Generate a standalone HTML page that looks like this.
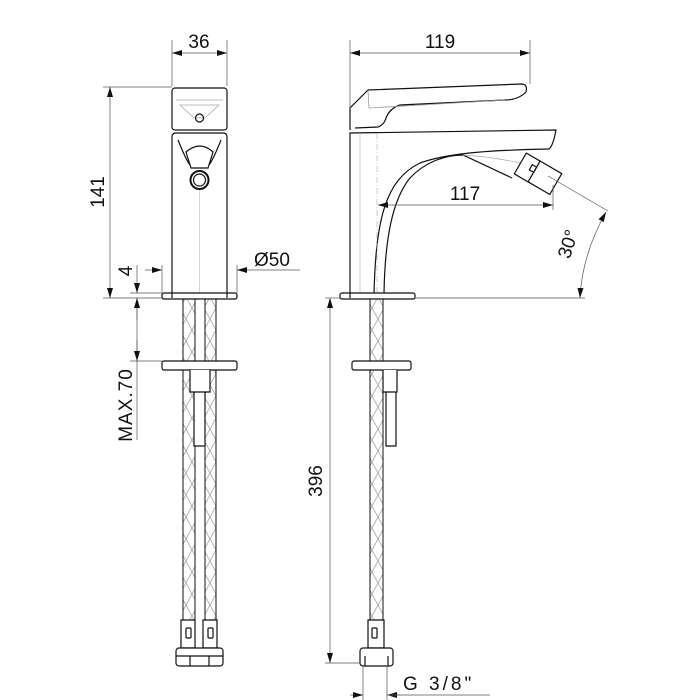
<!DOCTYPE html>
<html><head><meta charset="utf-8"><style>
html,body{margin:0;padding:0;background:#fff;}
svg{display:block;}
text{font-family:"Liberation Sans",sans-serif;fill:#111;}
</style></head><body>
<svg width="700" height="700" viewBox="0 0 700 700" xmlns="http://www.w3.org/2000/svg">
<defs>
<pattern id="br" width="12" height="22" patternUnits="userSpaceOnUse">
<path d="M0 0 L12 22 M12 0 L0 22" stroke="#999" stroke-width="0.7" fill="none"/>
</pattern>
<marker id="a" markerWidth="10" markerHeight="6" refX="10" refY="3" orient="auto-start-reverse" markerUnits="userSpaceOnUse">
<path d="M0 0 L10 3 L0 6 Z" fill="#111"/>
</marker>
</defs>
<g fill="none" stroke="#111" stroke-width="1.2">
<!-- LEFT VIEW -->
<rect x="172" y="88" width="55" height="42" rx="3"/>
<path d="M176 100 L223 100 M180 105 L219 105 L205 118 L194 118 Z" stroke="#aaa" stroke-width="0.8"/>
<circle cx="199.5" cy="118" r="4"/>
<path d="M172 298 L172 137 Q172 133 176 133 L223 133 Q227 133 227 137 L227 298"/>
<path d="M178 140 Q186 160 190 165 M221 140 Q213 160 209 165" />
<path d="M186 152 Q200 140 213 152 L208 168 L191 168 Z"/>
<circle cx="199.5" cy="180" r="9" stroke-width="2"/>
<circle cx="199.5" cy="180" r="6"/>
<line x1="199.5" y1="190" x2="199.5" y2="293" stroke="#bbb" stroke-width="0.6"/>
<rect x="162" y="293" width="75" height="6" rx="2"/>
<rect x="183" y="299" width="12" height="351" fill="url(#br)" stroke-width="1"/>
<rect x="205" y="299" width="11" height="351" fill="url(#br)" stroke-width="1"/>
<rect x="162" y="361" width="75" height="9" rx="2" fill="#fff"/>
<path d="M190 370 L190 392 L210 392 L210 370 M194 392 L194 446 L205 446 L205 392" fill="#fff"/>
<path d="M181 620 h14 v28 h-14z M203 620 h14 v28 h-14z" fill="#fff"/>
<rect x="186" y="628" width="5" height="10" rx="1"/>
<rect x="208" y="628" width="5" height="10" rx="1"/>
<rect x="176" y="648" width="47" height="18" rx="3" fill="#fff"/>
<path d="M176 656 h47 M190 656 v10 M209 656 v10"/>
<!-- RIGHT VIEW -->
<path d="M350 130 L350 108 L368 90 L521 84 Q528 84 526 92 Q518 100 505 100 L400 105 Q390 108 386 118 Q384 125 378 127 L355 128"/>
<path d="M368 90 L369 108 L505 100" stroke="#999" stroke-width="0.8"/>
<path d="M350 298 L350 133 L556 130 Q553 146 549 149"/>
<path d="M374 293 C376 220 385 180 420 163 C450 152 500 150 549 149"/>
<path d="M384 293 C385 240 392 200 410 178 C425 162 445 155 463 155 L512 178"/>
<path d="M463 155 Q500 157 540 168" stroke="#aaa" stroke-width="0.7"/>
<g transform="rotate(30 535 172)">
<rect x="518" y="160" width="16" height="24" fill="#fff"/>
<rect x="534" y="160" width="25" height="24" fill="#fff"/>
<rect x="529" y="167" width="5" height="6"/>
</g>
<line x1="360" y1="133" x2="360" y2="293" stroke="#aaa" stroke-width="0.6"/>
<line x1="377" y1="133" x2="377" y2="293" stroke="#aaa" stroke-width="0.6" stroke-dasharray="6 2 1 2"/>
<rect x="340" y="293" width="75" height="6" rx="2"/>
<rect x="370" y="299" width="13" height="351" fill="url(#br)" stroke-width="1"/>
<rect x="352" y="361" width="59" height="9" rx="2" fill="#fff"/>
<path d="M383 370 L383 392 L397 392 L397 370 M386 392 L386 446 L396 446 L396 392" fill="#fff"/>
<path d="M368 620 h16 v28 h-16z" fill="#fff"/>
<rect x="372" y="628" width="5" height="10" rx="1"/>
<rect x="360" y="648" width="33" height="18" rx="3" fill="#fff"/>
<path d="M365 656 v10 M388 656 v10"/>
</g>
<!-- DIMENSIONS -->
<g fill="none" stroke="#555" stroke-width="0.7">
<line x1="172" y1="40" x2="172" y2="86"/><line x1="227" y1="40" x2="227" y2="86"/>
<line x1="172" y1="53" x2="227" y2="53" marker-start="url(#a)" marker-end="url(#a)"/>
<line x1="103" y1="87" x2="172" y2="87"/><line x1="103" y1="298" x2="162" y2="298"/>
<line x1="110" y1="87" x2="110" y2="298" marker-start="url(#a)" marker-end="url(#a)"/>
<line x1="130" y1="293" x2="162" y2="293"/>
<line x1="137" y1="265" x2="137" y2="293" marker-end="url(#a)"/>
<line x1="137" y1="298" x2="137" y2="440" />
<line x1="137" y1="298" x2="137" y2="320" marker-start="url(#a)"/>
<line x1="130" y1="361" x2="162" y2="361"/>
<line x1="137" y1="340" x2="137" y2="361" marker-end="url(#a)"/>
<line x1="162" y1="265" x2="162" y2="293"/><line x1="237" y1="265" x2="237" y2="293"/>
<line x1="145" y1="270" x2="162" y2="270" marker-end="url(#a)"/>
<line x1="300" y1="270" x2="237" y2="270" marker-end="url(#a)"/>
<line x1="350" y1="40" x2="350" y2="108"/><line x1="530" y1="40" x2="530" y2="84"/>
<line x1="350" y1="53" x2="530" y2="53" marker-start="url(#a)" marker-end="url(#a)"/>
<line x1="553" y1="185" x2="553" y2="210"/>
<line x1="378" y1="205" x2="553" y2="205" marker-start="url(#a)" marker-end="url(#a)"/>
<line x1="548" y1="176" x2="608" y2="211"/>
<line x1="415" y1="298" x2="585" y2="298"/>
<path d="M606 212 Q582 255 580 298" marker-start="url(#a)" marker-end="url(#a)"/>
<line x1="325" y1="298" x2="340" y2="298"/><line x1="325" y1="663" x2="360" y2="663"/>
<line x1="330" y1="298" x2="330" y2="663" marker-start="url(#a)" marker-end="url(#a)"/>
<line x1="363" y1="666" x2="363" y2="700"/><line x1="387" y1="666" x2="387" y2="700"/>
<line x1="350" y1="695" x2="363" y2="695" marker-end="url(#a)"/>
<line x1="400" y1="695" x2="387" y2="695" marker-end="url(#a)"/>
<line x1="387" y1="695" x2="490" y2="695"/>
</g>
<g font-size="19">
<text x="199" y="48" text-anchor="middle">36</text>
<text x="440" y="48" text-anchor="middle">119</text>
<text x="465" y="200" text-anchor="middle">117</text>
<text x="272" y="266" text-anchor="middle">Ø50</text>
<text transform="translate(104 192) rotate(-90)" text-anchor="middle">141</text>
<text transform="translate(132 271) rotate(-90)" text-anchor="middle">4</text>
<text transform="translate(132 405) rotate(-90)" text-anchor="middle" letter-spacing="1">MAX.70</text>
<text transform="translate(322 481) rotate(-90)" text-anchor="middle">396</text>
<text transform="translate(574 246) rotate(-72)" text-anchor="middle">30°</text>
<text x="403" y="690" letter-spacing="3">G 3/8"</text>
</g>
</svg>
</body></html>
